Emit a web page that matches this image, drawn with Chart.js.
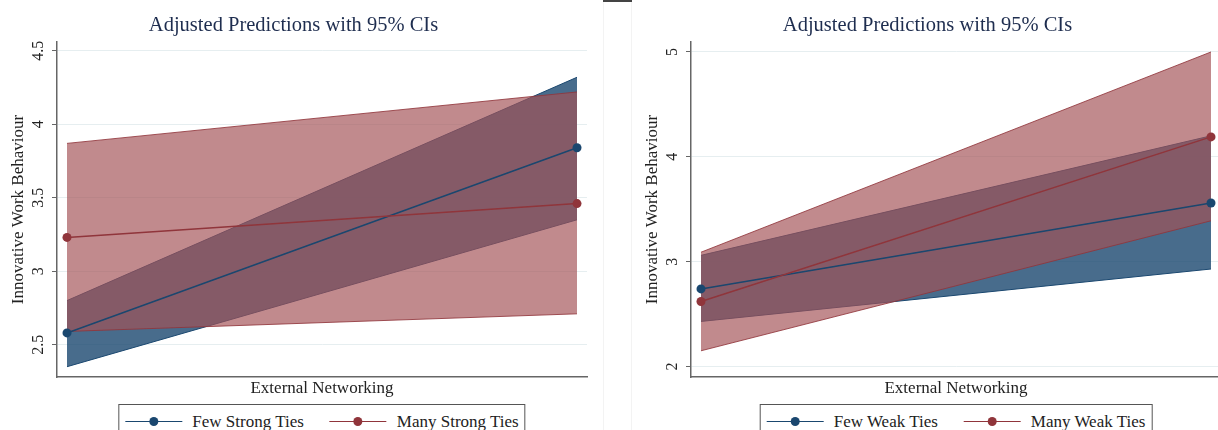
<!DOCTYPE html>
<html>
<head>
<meta charset="utf-8">
<title>Adjusted Predictions with 95% CIs</title>
<script src="https://cdn.jsdelivr.net/npm/chart.js@4.4.0/dist/chart.umd.min.js"></script>
<style>
  html, body { margin: 0; padding: 0; background: #fff; width: 1218px; height: 430px; overflow: hidden; }
  .panel { position: absolute; top: 0; width: 603px; height: 430px; }
  #leftPanel { left: 0; }
  #rightPanel { left: 634px; }
  .sep { position: absolute; top: 0; width: 1px; height: 430px; background: #f3f3f3; }
  .sepTop { position: absolute; top: 0; left: 603px; width: 29px; height: 2px; background: #444; }
  .legend {
    position: absolute; top: 404px; height: 34px;
    border: 1px solid #555; background: #fff;
    display: flex; align-items: center; padding: 0 6px 2px 6px;
    font-family: "Liberation Serif", serif; font-size: 17px; color: #222;
    transform: translateX(-50%); white-space: nowrap;
  }
  .key { position: relative; width: 57px; height: 10px; margin-right: 10px; }
  .key .ln { position: absolute; left: 0; right: 0; top: 4px; border-top: 1.5px solid; }
  .key .dot { position: absolute; left: 24px; top: 0; width: 9px; height: 9px; border-radius: 50%; }
  .gap { width: 26px; }
</style>
</head>
<body>
<div class="sep" style="left:603px"></div>
<div class="sep" style="left:631px"></div>
<div class="sepTop"></div>
<div class="panel" id="leftPanel"><canvas id="leftChart" width="603" height="430"></canvas></div>
<div class="panel" id="rightPanel"><canvas id="rightChart" width="603" height="430"></canvas></div>
<div class="legend" id="leftLegend" style="left:322px"></div>
<div class="legend" id="rightLegend" style="left:956px"></div>

<script>
// --- data ---
const xValues = [0, 1];           // low / high External Networking
const titleText = "Adjusted Predictions with 95% CIs";
const xTitle = "External Networking";
const yTitle = "Innovative Work Behaviour";

// left panel: strong ties
const leftNames = ["Few Strong Ties", "Many Strong Ties"];
const leftFewEst  = [2.58, 3.84];
const leftFewLo   = [2.35, 3.35];
const leftFewHi   = [2.80, 4.32];
const leftManyEst = [3.23, 3.46];
const leftManyLo  = [2.59, 2.71];
const leftManyHi  = [3.87, 4.22];
const leftYTicks  = [2.5, 3, 3.5, 4, 4.5];

// right panel: weak ties
const rightNames = ["Few Weak Ties", "Many Weak Ties"];
const rightFewEst  = [2.74, 3.56];
const rightFewLo   = [2.43, 2.93];
const rightFewHi   = [3.06, 4.20];
const rightManyEst = [2.62, 4.19];
const rightManyLo  = [2.15, 3.39];
const rightManyHi  = [3.09, 5.00];
const rightYTicks  = [2, 3, 4, 5];

const navy = "#1a476f";
const maroon = "#90353b";
const navyFill = "rgba(26,71,111,0.8)";
const maroonFill = "rgba(164,82,87,0.68)";
const maroonEdge = "rgba(144,53,59,0.85)";
const serif = "'Liberation Serif', serif";

function pts(ys) {
    return xValues.map((x, i) => ({ x: x, y: ys[i] }));
}

// y tick labels in the reference are turned 90 degrees, Chart.js won't do that on a y axis
const rotatedTicks = {
    id: "rotatedTicks",
    afterDraw(chart) {
        const ys = chart.scales.y;
        const ctx = chart.ctx;
        ctx.save();
        ctx.font = "16px " + serif;
        ctx.fillStyle = "#222";
        ctx.textAlign = "center";
        ctx.textBaseline = "middle";
        ys.ticks.forEach(t => {
            const py = ys.getPixelForValue(t.value);
            ctx.save();
            ctx.translate(chart.chartArea.left - 18, py);
            ctx.rotate(-Math.PI / 2);
            ctx.fillText(String(t.value), 0, 0);
            ctx.restore();
        });
        ctx.restore();
    }
};

function makeChart(id, fe, fl, fh, me, ml, mh, yMin, yMax, yTicks, names) {
    const band = (data, color, fill, order) => ({
        data: pts(data), borderColor: color, borderWidth: 1, backgroundColor: fill,
        pointRadius: 0, fill: fill ? "-1" : false, order: order, tension: 0
    });
    const line = (data, color, label, order) => ({
        label: label, data: pts(data), borderColor: color, backgroundColor: color,
        borderWidth: 1.5, pointRadius: 4.5, pointBorderWidth: 0, pointBackgroundColor: color,
        fill: false, order: order, tension: 0
    });

    return new Chart(document.getElementById(id), {
        type: "line",
        data: {
            datasets: [
                band(fl, navy, null, 4),
                band(fh, navy, navyFill, 4),
                band(ml, maroonEdge, null, 3),
                band(mh, maroonEdge, maroonFill, 3),
                line(fe, navy, names[0], 2),
                line(me, maroon, names[1], 1)
            ]
        },
        options: {
            responsive: false,
            devicePixelRatio: 1,
            animation: false,
            layout: { padding: { left: 0, right: 16, top: 0, bottom: 29 } },
            plugins: {
                legend: { display: false },
                tooltip: { enabled: false },
                title: {
                    display: true, text: titleText, color: "#1e2d4f",
                    font: { family: serif, size: 20.5, weight: "normal" },
                    padding: { top: 13, bottom: 4.4 }
                }
            },
            scales: {
                x: {
                    type: "linear", min: -0.0196, max: 1.0196,
                    grid: { display: false },
                    ticks: { display: false },
                    border: { color: "#666", width: 1.5 },
                    title: { display: true, text: xTitle, color: "#222",
                             font: { family: serif, size: 17 }, padding: { top: 0, bottom: 2 } },
                    afterFit: s => { s.height = 24; }
                },
                y: {
                    min: yMin, max: yMax,
                    afterBuildTicks: s => { s.ticks = yTicks.map(v => ({ value: v })); },
                    ticks: { display: false },
                    grid: { color: "#e6eef0", lineWidth: 1, drawTicks: true, tickLength: 5, tickColor: "#666" },
                    border: { color: "#666", width: 1.5 },
                    title: { display: true, text: yTitle, color: "#222",
                             font: { family: serif, size: 17 }, padding: { top: 8, bottom: 0 } },
                    afterFit: s => { s.width = 57; }
                }
            }
        },
        plugins: [rotatedTicks]
    });
}

function fillLegend(id, names) {
    const colors = [navy, maroon];
    const el = document.getElementById(id);
    names.forEach((n, i) => {
        if (i > 0) el.insertAdjacentHTML("beforeend", '<span class="gap"></span>');
        el.insertAdjacentHTML("beforeend",
            `<span class="key"><span class="ln" style="border-color:${colors[i]}"></span>` +
            `<span class="dot" style="background:${colors[i]}"></span></span><span>${n}</span>`);
    });
}

makeChart("leftChart", leftFewEst, leftFewLo, leftFewHi, leftManyEst, leftManyLo, leftManyHi,
          2.28, 4.56, leftYTicks, leftNames);
makeChart("rightChart", rightFewEst, rightFewLo, rightFewHi, rightManyEst, rightManyLo, rightManyHi,
          1.9, 5.095, rightYTicks, rightNames);
fillLegend("leftLegend", leftNames);
fillLegend("rightLegend", rightNames);
</script>
</body>
</html>
